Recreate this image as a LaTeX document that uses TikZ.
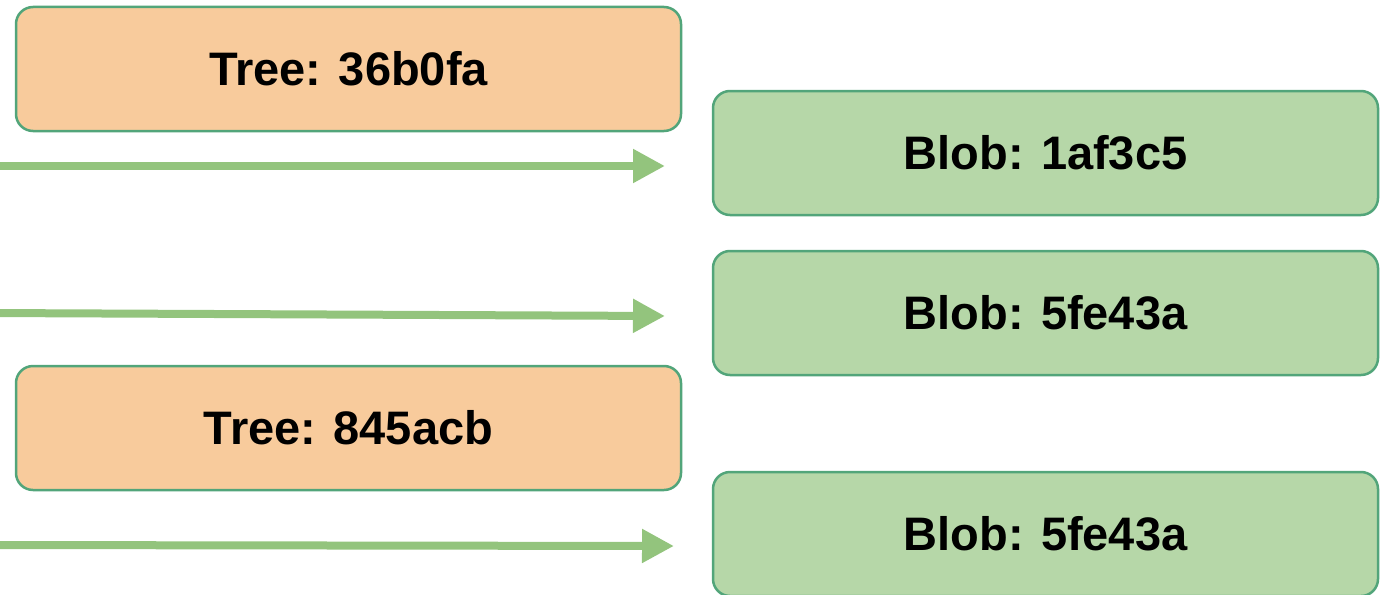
\documentclass[tikz,border=0pt]{standalone}
\usepackage{fontspec}
\setmainfont{Liberation Sans}
\usetikzlibrary{arrows.meta}
\definecolor{treefill}{HTML}{F8CB9C}
\definecolor{blobfill}{HTML}{B6D7A8}
\definecolor{boxline}{HTML}{52A57A}
\definecolor{arrowcol}{HTML}{93C47D}
\begin{document}
\begin{tikzpicture}[x=1pt,y=-1pt,
  objbox/.style={draw=boxline, line width=2.5pt, rounded corners=17pt,
    minimum width=665pt, minimum height=124pt, inner sep=0pt,
    font=\fontsize{47}{56}\selectfont\bfseries},
  treebox/.style={objbox, fill=treefill},
  blobbox/.style={objbox, fill=blobfill},
  ptr/.style={draw=arrowcol, line width=8pt,
    -{Triangle[length=32pt,width=32pt]}}]
\useasboundingbox (0,0) rectangle (1383,594);
\node[treebox] (t1) at (348.5,69) {Tree: 36b0fa};
\node[treebox] (t2) at (348.5,428) {Tree: 845acb};
\node[blobbox] (b1) at (1045.5,153) {Blob: 1af3c5};
\node[blobbox] (b2) at (1045.5,313) {Blob: 5fe43a};
\node[blobbox] (b3) at (1045.5,534) {Blob: 5fe43a};
\coordinate (s1) at (-10,166);
\coordinate (e1) at (665,166);
\coordinate (s2) at (-10,313);
\coordinate (e2) at (665,316);
\coordinate (s3) at (-10,545);
\coordinate (e3) at (674,546);
\draw[ptr] (s1) -- (e1);
\draw[ptr] (s2) -- (e2);
\draw[ptr] (s3) -- (e3);
\end{tikzpicture}
\end{document}
